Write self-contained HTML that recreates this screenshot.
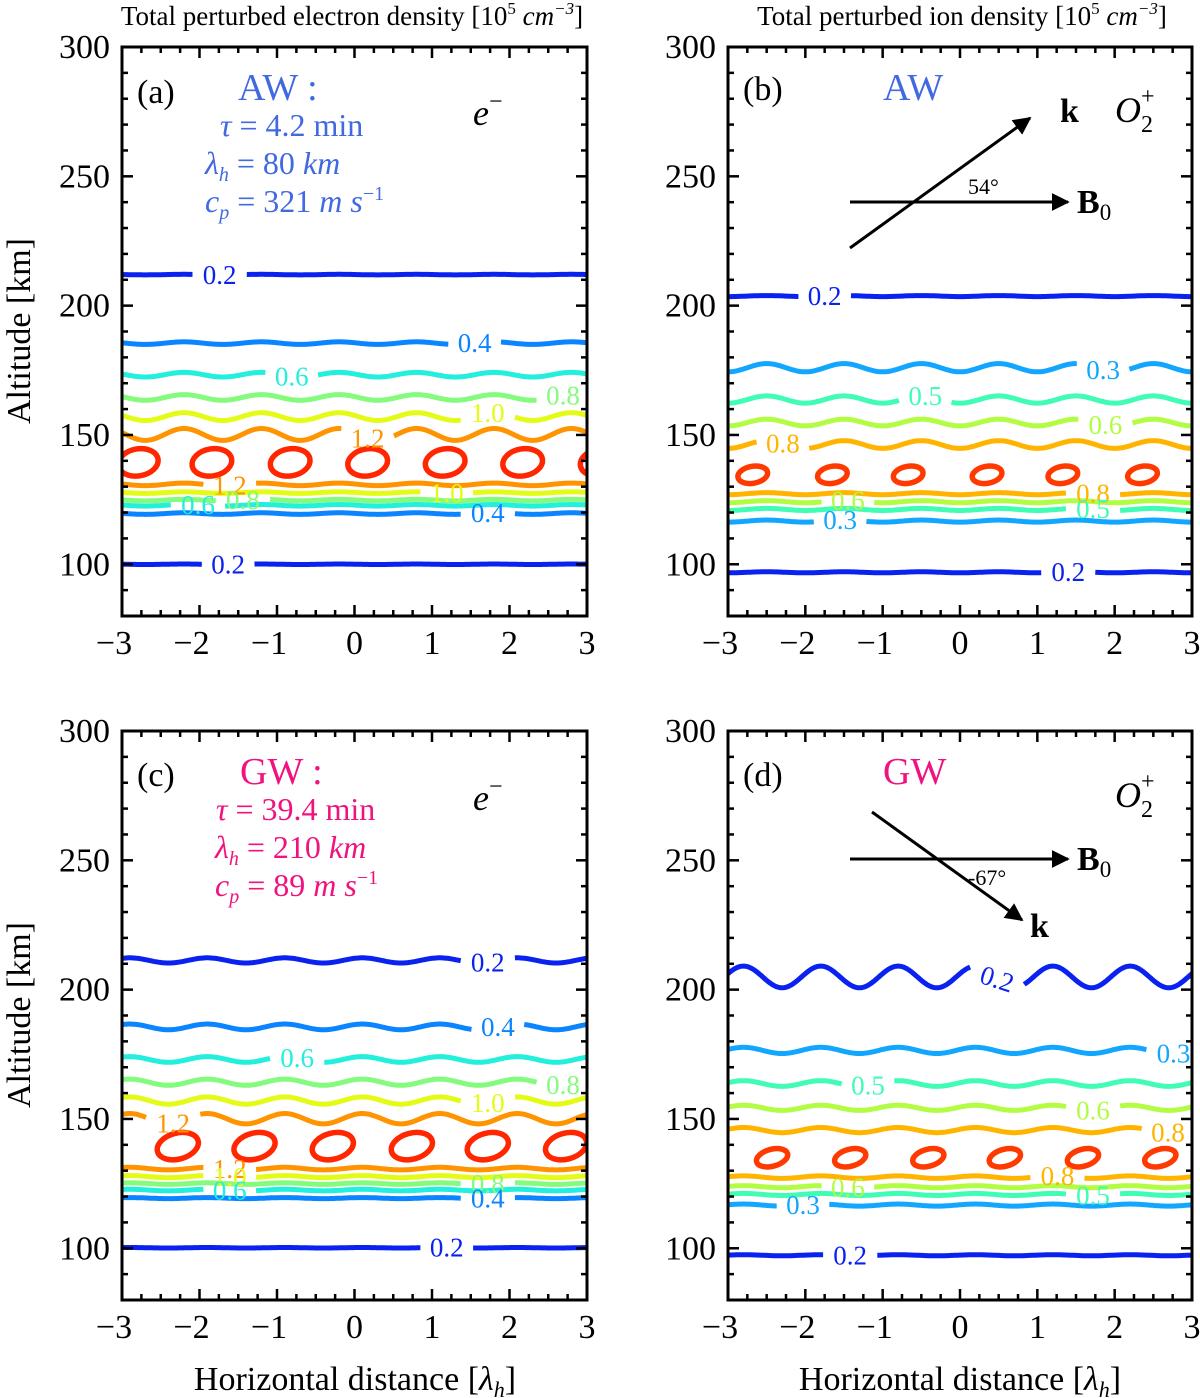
<!DOCTYPE html>
<html><head><meta charset="utf-8">
<style>
html,body{margin:0;padding:0;background:#fff;}
svg{display:block;font-family:"Liberation Serif",serif;}
</style></head>
<body>
<svg id="fig" width="1200" height="1398" viewBox="0 0 1200 1398" xmlns="http://www.w3.org/2000/svg">
<defs>
<marker id="ah" viewBox="0 0 10 10" refX="9" refY="5" markerWidth="6" markerHeight="6" orient="auto"><path d="M0,0 L10,5 L0,10 z" fill="#000"/></marker>
<clipPath id="clipA"><rect x="122" y="47" width="465" height="569"/></clipPath>
<clipPath id="clipB"><rect x="728" y="47" width="464" height="569"/></clipPath>
<clipPath id="clipC"><rect x="122" y="731" width="465" height="569"/></clipPath>
<clipPath id="clipD"><rect x="728" y="731" width="464" height="569"/></clipPath>
</defs>

<text x="352" y="25" font-size="27" text-anchor="middle">Total perturbed electron density [10<tspan font-size="17" dy="-11">5</tspan><tspan dy="11" font-style="italic"> cm</tspan><tspan font-size="17" dy="-11" font-style="italic">−3</tspan><tspan dy="11">]</tspan></text>
<text x="962" y="25" font-size="27" text-anchor="middle">Total perturbed ion density [10<tspan font-size="17" dy="-11">5</tspan><tspan dy="11" font-style="italic"> cm</tspan><tspan font-size="17" dy="-11" font-style="italic">−3</tspan><tspan dy="11">]</tspan></text>

<text transform="translate(30,331) rotate(-90)" font-size="34" text-anchor="middle">Altitude [km]</text>
<text transform="translate(30,1015) rotate(-90)" font-size="34" text-anchor="middle">Altitude [km]</text>
<text x="355" y="1390" font-size="34" text-anchor="middle">Horizontal distance [<tspan font-style="italic">λ</tspan><tspan font-style="italic" font-size="22" dy="7">h</tspan><tspan dy="-7">]</tspan></text>
<text x="960" y="1390" font-size="34" text-anchor="middle">Horizontal distance [<tspan font-style="italic">λ</tspan><tspan font-style="italic" font-size="22" dy="7">h</tspan><tspan dy="-7">]</tspan></text>

<!-- panel a annotations -->
<text x="137" y="103" font-size="34">(a)</text>
<text x="238" y="100" font-size="38" fill="#4169e1">AW :</text>
<text x="220" y="136" font-size="32" fill="#4169e1"><tspan font-style="italic">τ</tspan> = 4.2 min</text>
<text x="205" y="174" font-size="32" fill="#4169e1"><tspan font-style="italic">λ</tspan><tspan font-style="italic" font-size="20" dy="7">h</tspan><tspan dy="-7"> = 80 </tspan><tspan font-style="italic">km</tspan></text>
<text x="205" y="212" font-size="32" fill="#4169e1"><tspan font-style="italic">c</tspan><tspan font-style="italic" font-size="20" dy="7">p</tspan><tspan dy="-7"> = 321 </tspan><tspan font-style="italic">m s</tspan><tspan font-size="20" dy="-12">−1</tspan></text>
<text x="473" y="125" font-size="36" font-style="italic">e<tspan font-size="24" dy="-16" font-style="normal">−</tspan></text>

<!-- panel b annotations -->
<text x="743" y="100" font-size="34">(b)</text>
<text x="883" y="100" font-size="38" fill="#4169e1">AW</text>
<line x1="850" y1="248" x2="1030" y2="118" stroke="#000" stroke-width="3" marker-end="url(#ah)"/>
<line x1="850" y1="202" x2="1068" y2="202" stroke="#000" stroke-width="3" marker-end="url(#ah)"/>
<text x="1060" y="122" font-size="34" font-weight="bold">k</text>
<text x="1115" y="122" font-size="36" font-style="italic">O<tspan font-size="24" dy="10" font-style="normal">2</tspan><tspan font-size="24" dy="-28" dx="-12" font-style="normal">+</tspan></text>
<text x="968" y="194" font-size="22">54°</text>
<text x="1077" y="213" font-size="34" font-weight="bold">B<tspan font-size="23" dy="7" font-weight="normal">0</tspan></text>

<!-- panel c annotations -->
<text x="137" y="786" font-size="34">(c)</text>
<text x="240" y="784" font-size="38" fill="#f0137f">GW :</text>
<text x="216" y="820" font-size="32" fill="#f0137f"><tspan font-style="italic">τ</tspan> = 39.4 min</text>
<text x="215" y="858" font-size="32" fill="#f0137f"><tspan font-style="italic">λ</tspan><tspan font-style="italic" font-size="20" dy="7">h</tspan><tspan dy="-7"> = 210 </tspan><tspan font-style="italic">km</tspan></text>
<text x="215" y="896" font-size="32" fill="#f0137f"><tspan font-style="italic">c</tspan><tspan font-style="italic" font-size="20" dy="7">p</tspan><tspan dy="-7"> = 89 </tspan><tspan font-style="italic">m s</tspan><tspan font-size="20" dy="-12">−1</tspan></text>
<text x="473" y="810" font-size="36" font-style="italic">e<tspan font-size="24" dy="-16" font-style="normal">−</tspan></text>

<!-- panel d annotations -->
<text x="743" y="786" font-size="34">(d)</text>
<text x="883" y="784" font-size="38" fill="#f0137f">GW</text>
<text x="1115" y="807" font-size="36" font-style="italic">O<tspan font-size="24" dy="10" font-style="normal">2</tspan><tspan font-size="24" dy="-28" dx="-12" font-style="normal">+</tspan></text>
<line x1="850" y1="859" x2="1068" y2="859" stroke="#000" stroke-width="3" marker-end="url(#ah)"/>
<line x1="872" y1="812" x2="1022" y2="920" stroke="#000" stroke-width="3" marker-end="url(#ah)"/>
<text x="1077" y="870" font-size="34" font-weight="bold">B<tspan font-size="23" dy="7" font-weight="normal">0</tspan></text>
<text x="1030" y="937" font-size="34" font-weight="bold">k</text>
<text x="968" y="885" font-size="22">-67°</text>
</svg>

<script>
// ---------- data ----------
const yTickVals = [100,150,200,250,300];
const xTickVals = [-3,-2,-1,0,1,2,3];

const aLevels = [0.2,0.4,0.6,0.8,1.0,1.2,1.2,1.0,0.8,0.6,0.4,0.2];
const aAlt    = [212,185.5,173.3,164.5,157.1,150.2,130.9,127.7,124.8,122.8,119.6,100];
const aAmp    = [0.1,0.5,0.9,1.1,1.5,2.3,0.5,0.3,0.3,0.3,0.3,0.1];
const aLabelX = [-1.74,1.55,-0.81,2.69,1.72,0.17,-1.61,1.19,-1.44,-2.02,1.72,-1.63];
const aEllX   = [-2.79,-1.84,-0.83,0.17,1.17,2.17,3.17];
const aEllAlt = 139.4;

const bLevels = [0.2,0.3,0.5,0.6,0.8,0.8,0.6,0.5,0.3,0.2];
const bAlt    = [203.7,176,163.7,154.8,146.3,127.3,124.2,121.2,116.7,96.9];
const bAmp    = [0.2,1.6,1.4,1.3,1.5,0.4,0.4,0.4,0.4,0.2];
const bLabelX = [-1.75,1.85,-0.45,1.88,-2.29,1.72,-1.45,1.72,-1.55,1.40];
const bEllX   = [-2.68,-1.65,-0.67,0.35,1.33,2.36];
const bEllAlt = 134.6;

const cLevels = [0.2,0.4,0.6,0.8,1.0,1.2,1.2,1.0,0.8,0.6,0.4,0.2];
const cAlt    = [211.3,185.6,173,164.2,157.1,150.1,130.8,127.7,125,122.5,119.4,100.2];
const cAmp    = [1.0,1.1,1.1,1.2,1.4,2.0,0.5,0.4,0.3,0.3,0.2,0.1];
const cLabelX = [1.72,1.85,-0.74,2.69,1.72,-2.34,-1.61,-1.61,1.72,-1.61,1.72,1.19];
const cEllX   = [-2.28,-1.29,-0.28,0.74,1.72,2.73];
const cEllAlt = 139.5;

const dLevels = [0.2,0.3,0.5,0.6,0.8,0.8,0.6,0.5,0.3,0.2];
const dAlt    = [204.9,176.5,163.7,154.3,145.7,127.5,123.8,120.8,116.7,97.3];
const dAmp    = [4.2,1.2,1.1,1.0,1.0,0.5,0.4,0.4,0.4,0.2];
const dLabelX = [0.48,2.76,-1.19,1.72,2.69,1.26,-1.45,1.72,-2.03,-1.42];
const dEllX   = [-2.43,-1.42,-0.41,0.58,1.59,2.59];
const dEllAlt = 135;

// ---------- style ----------
const colE = {"0.2":"#0a22f0","0.4":"#0a84ff","0.6":"#22efdc","0.8":"#84fb7c","1.0":"#e4fb18","1.2":"#ff9400","1.4":"#ff2600"};
const colI = {"0.2":"#0a22f0","0.3":"#12a6ff","0.5":"#40fcb4","0.6":"#b2fc44","0.8":"#ffb400","0.9":"#ff3a00"};

const NS = "http://www.w3.org/2000/svg";
const svg = document.getElementById("fig");
function mk(tag, attrs, parent){
  const e = document.createElementNS(NS, tag);
  for (const k in attrs) e.setAttribute(k, attrs[k]);
  (parent||svg).appendChild(e);
  return e;
}

function panel(cfg){
  const L=cfg.left, R=cfg.right, T=cfg.top, B=cfg.bottom;
  const sx = v => L + (v+3)*(R-L)/6;
  const sy = a => T + (300-a)*(B-T)/220;
  const g = mk("g", {"clip-path":"url(#"+cfg.clip+")"});
  
  
  const pxPerUnit = (R-L)/6;
  for (let i=0;i<cfg.levels.length;i++){
    const lv = cfg.levels[i].toFixed(1);
    const color = cfg.colors[lv];
    const lx = cfg.labelX[i];
    const gapHalf = 26/pxPerUnit;
    let segs=[[]];
    for (let x=-3.05; x<=3.05; x+=0.02){
      if (Math.abs(x-lx) < gapHalf){ if (segs[segs.length-1].length) segs.push([]); continue; }
      const a = cfg.alt[i] + cfg.amp[i]*Math.cos(2*Math.PI*(x - cfg.crest));
      segs[segs.length-1].push(sx(x).toFixed(1)+","+sy(a).toFixed(1));
    }
    segs.forEach(s=>{
      if (s.length<2) return;
      const pl = mk("polyline", {points:s.join(" "), fill:"none", stroke:color, "stroke-width":5, "stroke-linejoin":"round"}, g);
      
      
    });
    const la = cfg.alt[i] + cfg.amp[i]*Math.cos(2*Math.PI*(lx - cfg.crest));
    const t = mk("text", {x:sx(lx), y:sy(la)+9, "font-size":27, fill:color, "text-anchor":"middle"});
    if (cfg.rotFirst && i===0) t.setAttribute("transform","rotate(18 "+sx(lx)+" "+sy(la)+")");
    t.textContent = lv;
    
    
  }
  for (let j=0;j<cfg.ellX.length;j++){
    const cx = sx(cfg.ellX[j]), cy = sy(cfg.ellAlt);
    const el = mk("ellipse", {cx:cx, cy:cy, rx:cfg.erx, ry:cfg.ery, fill:"none", stroke:cfg.ellColor, "stroke-width":5.5,
      transform:"rotate("+cfg.erot+" "+cx+" "+cy+")"}, g);
    
    
  }
  const fr = mk("rect", {x:L, y:T, width:R-L, height:B-T, fill:"none", stroke:"#000", "stroke-width":3});
  
  
  for (let a=80; a<=300; a+=10){
    const major = (a%50===0);
    const len = major?11:6;
    mk("line",{x1:L,y1:sy(a),x2:L+len,y2:sy(a),stroke:"#000","stroke-width":2.5});
    mk("line",{x1:R,y1:sy(a),x2:R-len,y2:sy(a),stroke:"#000","stroke-width":2.5});
  }
  yTickVals.forEach(v=>{
    const t = mk("text",{x:L-12,y:sy(v)+11,"font-size":34,"text-anchor":"end"});
    t.textContent = String(v);
    
    
  });
  for (let k=0;k<=24;k++){
    const v=-3+k*0.25;
    const major = (k%4===0);
    const len = major?11:6;
    mk("line",{x1:sx(v),y1:B,x2:sx(v),y2:B-len,stroke:"#000","stroke-width":2.5});
    mk("line",{x1:sx(v),y1:T,x2:sx(v),y2:T+len,stroke:"#000","stroke-width":2.5});
  }
  xTickVals.forEach(v=>{
    const t = mk("text",{x:sx(v)+(v<0?-8:0),y:B+38,"font-size":34,"text-anchor":"middle"});
    t.textContent = v<0 ? "−"+Math.abs(v) : String(v);
    
    
  });
}

panel({name:"panel-a",clip:"clipA",left:122,right:587,top:47,bottom:616,levels:aLevels,alt:aAlt,amp:aAmp,labelX:aLabelX,crest:-1.2,
  colors:colE,ellX:aEllX,ellAlt:aEllAlt,erx:20,ery:13.5,erot:-10,ellColor:colE["1.4"]});
panel({name:"panel-b",clip:"clipB",left:728,right:1192,top:47,bottom:616,levels:bLevels,alt:bAlt,amp:bAmp,labelX:bLabelX,crest:-0.5,
  colors:colI,ellX:bEllX,ellAlt:bEllAlt,erx:15,ery:8.5,erot:-10,ellColor:colI["0.9"]});
panel({name:"panel-c",clip:"clipC",left:122,right:587,top:731,bottom:1300,levels:cLevels,alt:cAlt,amp:cAmp,labelX:cLabelX,crest:-1.9,
  colors:colE,ellX:cEllX,ellAlt:cEllAlt,erx:21,ery:13,erot:-15,ellColor:colE["1.4"]});
panel({name:"panel-d",clip:"clipD",left:728,right:1192,top:731,bottom:1300,levels:dLevels,alt:dAlt,amp:dAmp,labelX:dLabelX,crest:-2.8,
  colors:colI,ellX:dEllX,ellAlt:dEllAlt,erx:16,ery:8.5,erot:-15,ellColor:colI["0.9"],rotFirst:true});
</script>
</body></html>
